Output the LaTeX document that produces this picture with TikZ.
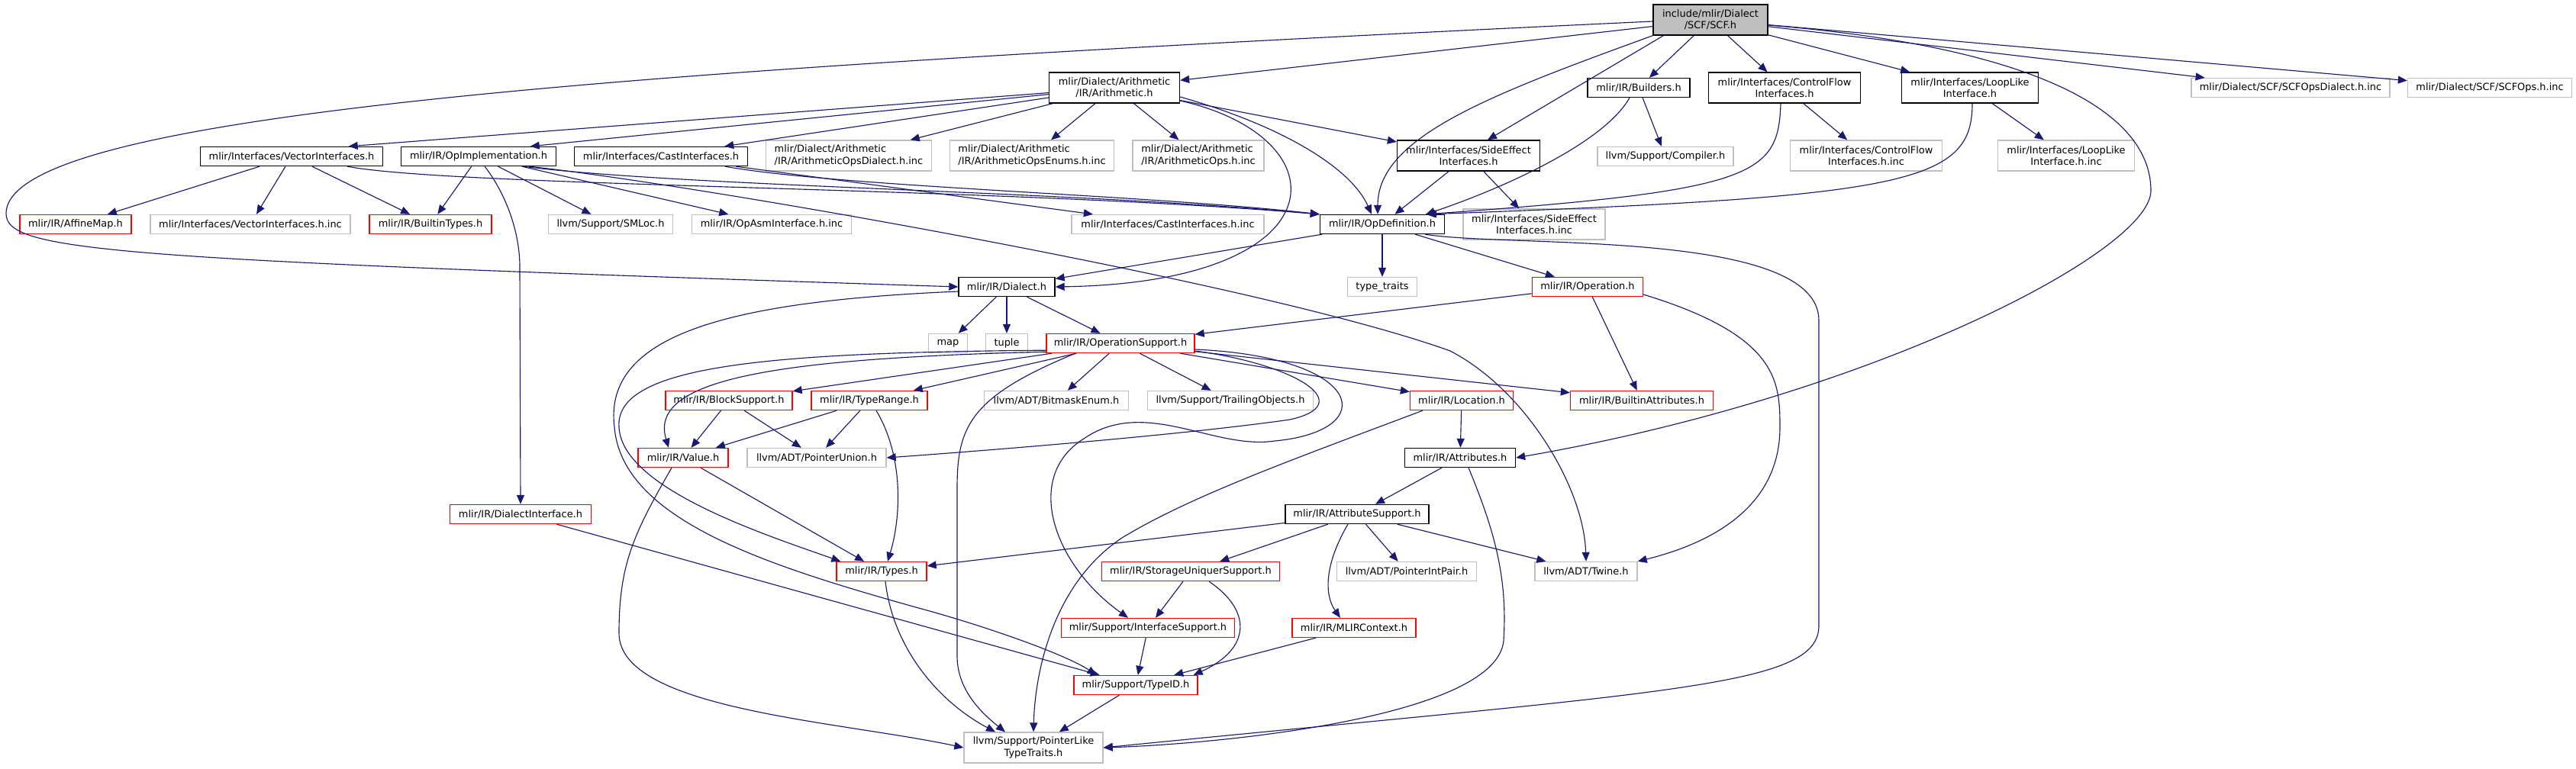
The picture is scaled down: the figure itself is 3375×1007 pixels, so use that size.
\documentclass[tikz,border=0pt]{standalone}
\usepackage{fontspec}
\setmainfont{DejaVu Sans}
\usepackage{xcolor}
\usetikzlibrary{arrows.meta,calc}
\definecolor{edgeblue}{RGB}{25,25,112}
\definecolor{lightgrey}{RGB}{191,191,191}
\tikzstyle{file} = [rectangle, line width=1pt, minimum height=25*0.75pt, inner xsep=4pt, inner ysep=2pt, text centered, align=center, fill=white, font=\fontsize{9.7}{11.5}\selectfont]
\tikzstyle{root} = [file, draw=black, fill=lightgrey]
\tikzstyle{doc} = [file, draw=black]
\tikzstyle{trunc} = [file, draw=red]
\tikzstyle{ext} = [file, draw=lightgrey]
\tikzstyle{tall} = [minimum height=40*0.75pt]
\tikzstyle{arrow} = [line width=0.85pt, draw=edgeblue, -{Triangle[length=9pt,width=7.5pt]}]
\tikzset{boxw/.style={minimum width=#1*0.75pt}}

\begin{document}
\begin{tikzpicture}[x=0.75pt, y=-0.75pt]
\path[fill=white, use as bounding box] (0,0) rectangle (3375,1007);

\node (scf) [root, boxw=150, tall] at (2241,26) {include/mlir/Dialect\\/SCF/SCF.h};
\node (arith) [doc, boxw=171, tall] at (1460,115) {mlir/Dialect/Arithmetic\\/IR/Arithmetic.h};
\node (builders) [doc, boxw=134] at (2147,115) {mlir/IR/Builders.h};
\node (cfi) [doc, boxw=199, tall] at (2338,115) {mlir/Interfaces/ControlFlow\\Interfaces.h};
\node (looplike) [doc, boxw=179, tall] at (2581,115) {mlir/Interfaces/LoopLike\\Interface.h};
\node (scfdial) [ext, boxw=260] at (3001,115) {mlir/Dialect/SCF/SCFOpsDialect.h.inc};
\node (scfops) [ext, boxw=215] at (3262,115) {mlir/Dialect/SCF/SCFOps.h.inc};

\node (vec) [doc, boxw=239] at (382,205) {mlir/Interfaces/VectorInterfaces.h};
\node (opimpl) [doc, boxw=203] at (627,205) {mlir/IR/OpImplementation.h};
\node (cast) [doc, boxw=227] at (866,205) {mlir/Interfaces/CastInterfaces.h};
\node (arithdial) [ext, boxw=217, tall, align=left] at (1112,204) {mlir/Dialect/Arithmetic\\/IR/ArithmeticOpsDialect.h.inc};
\node (arithenums) [ext, boxw=215, tall, align=left] at (1352,204) {mlir/Dialect/Arithmetic\\/IR/ArithmeticOpsEnums.h.inc};
\node (arithops) [ext, boxw=172, tall, align=left] at (1570,204) {mlir/Dialect/Arithmetic\\/IR/ArithmeticOps.h.inc};
\node (sideeff) [doc, boxw=187, tall] at (1924,204) {mlir/Interfaces/SideEffect\\Interfaces.h};
\node (compiler) [ext, boxw=178] at (2182,205) {llvm/Support/Compiler.h};
\node (cfiinc) [ext, boxw=199, tall] at (2445,204) {mlir/Interfaces/ControlFlow\\Interfaces.h.inc};
\node (loopinc) [ext, boxw=179, tall] at (2707,204) {mlir/Interfaces/LoopLike\\Interface.h.inc};

\node (affine) [trunc, boxw=146] at (99,294) {mlir/IR/AffineMap.h};
\node (vecinc) [ext, boxw=262] at (328,294) {mlir/Interfaces/VectorInterfaces.h.inc};
\node (btypes) [trunc, boxw=160] at (564,294) {mlir/IR/BuiltinTypes.h};
\node (smloc) [ext, boxw=163] at (800,294) {llvm/Support/SMLoc.h};
\node (opasm) [ext, boxw=209] at (1011,294) {mlir/IR/OpAsmInterface.h.inc};
\node (castinc) [ext, boxw=252] at (1530,294) {mlir/Interfaces/CastInterfaces.h.inc};
\node (opdef) [doc, boxw=163] at (1811,294) {mlir/IR/OpDefinition.h};
\node (sideinc) [ext, boxw=186, tall] at (2010,294) {mlir/Interfaces/SideEffect\\Interfaces.h.inc};

\node (dialect) [doc, boxw=126] at (1319,376) {mlir/IR/Dialect.h};
\node (typetraits) [ext, boxw=91] at (1811,376) {type\_traits};
\node (operation) [trunc, boxw=145] at (2080,376) {mlir/IR/Operation.h};

\node (map) [ext, boxw=51] at (1242,450) {map};
\node (tuple) [ext, boxw=55] at (1319,450) {tuple};
\node (opsupport) [trunc, boxw=194] at (1468,450) {mlir/IR/OperationSupport.h};

\node (blocksup) [trunc, boxw=166] at (955,525) {mlir/IR/BlockSupport.h};
\node (typerange) [trunc, boxw=152] at (1139,525) {mlir/IR/TypeRange.h};
\node (bitmask) [ext, boxw=189] at (1384,525) {llvm/ADT/BitmaskEnum.h};
\node (trailing) [ext, boxw=217] at (1612,525) {llvm/Support/TrailingObjects.h};
\node (location) [trunc, boxw=135] at (1915,525) {mlir/IR/Location.h};
\node (battr) [trunc, boxw=187] at (2151,525) {mlir/IR/BuiltinAttributes.h};

\node (value) [trunc, boxw=118] at (895,600) {mlir/IR/Value.h};
\node (ptrunion) [ext, boxw=182] at (1070,600) {llvm/ADT/PointerUnion.h};
\node (attributes) [doc, boxw=145] at (1913,600) {mlir/IR/Attributes.h};

\node (dialectif) [trunc, boxw=185] at (682,674) {mlir/IR/DialectInterface.h};
\node (attrsupport) [doc, boxw=188] at (1778,674) {mlir/IR/AttributeSupport.h};

\node (types) [trunc, boxw=118] at (1155,749) {mlir/IR/Types.h};
\node (storage) [trunc, boxw=233] at (1560,749) {mlir/IR/StorageUniquerSupport.h};
\node (ptrintpair) [ext, boxw=183] at (1843,749) {llvm/ADT/PointerIntPair.h};
\node (twine) [ext, boxw=134] at (2078,749) {llvm/ADT/Twine.h};

\node (ifsupport) [trunc, boxw=227] at (1504,823) {mlir/Support/InterfaceSupport.h};
\node (mlirctx) [trunc, boxw=162] at (1774,823) {mlir/IR/MLIRContext.h};
\node (typeid) [trunc, boxw=162] at (1488,898) {mlir/Support/TypeID.h};
\node (ptrlike) [ext, boxw=182, tall] at (1354,980) {llvm/Support/PointerLike\\TypeTraits.h};

\draw [arrow] (scf) -- (arith);
\draw [arrow] ($(scf.west)+(0,2)$) .. controls (800,92) and (8,150) .. (8,280) .. controls (8,330) and (150,340) .. (dialect.west);
\draw [arrow] (scf.south west) .. controls (1950,125) and (1805,180) .. ($(opdef.north)+(-6,0)$);
\draw [arrow] (scf) -- (builders);
\draw [arrow] ($(scf.south west)+(14,0)$) -- ($(sideeff.north)+(25,0)$);
\draw [arrow] (scf) -- (cfi);
\draw [arrow] (scf) -- (looplike);
\draw [arrow] (scf) -- (scfdial);
\draw [arrow] (scf) -- (scfops);
\draw [arrow] ($(scf.east)+(0,7)$) .. controls (2650,60) and (2818,140) .. (2818,250) .. controls (2818,330) and (2450,520) .. (attributes.east);

\draw [arrow] (arith) -- (vec.10);
\draw [arrow] (arith) -- (opimpl.11);
\draw [arrow] (arith) -- (cast.9);
\draw [arrow] (arith) -- (arithdial);
\draw [arrow] (arith) -- (arithenums);
\draw [arrow] (arith) -- (arithops);
\draw [arrow] ($(arith.east)+(0,17)$) .. controls (1760,180) and (1760,370) .. (dialect.east);
\draw [arrow] ($(arith.east)+(0,12)$) .. controls (1680,165) and (1770,220) .. ($(opdef.north)+(-14,0)$);
\draw [arrow] (arith) -- (sideeff);

\draw [arrow] (vec) -- (affine);
\draw [arrow] (vec) -- (vecinc);
\draw [arrow] (vec) -- (btypes);
\draw [arrow] ($(vec.south)+(73,0)$) .. controls (600,245) and (1300,245) .. (opdef.north west);

\draw [arrow] (opimpl) -- (btypes);
\draw [arrow] ($(opimpl.south)+(8,0)$) .. controls (660,250) and (681,300) .. (681,350) -- (dialectif.north);
\draw [arrow] (opimpl) -- (smloc);
\draw [arrow] (opimpl) -- (opasm);
\draw [arrow] ($(opimpl.south)+(58,0)$) .. controls (900,245) and (1400,250) .. (opdef.north west);
\draw [arrow] ($(opimpl.south)+(66,0)$) .. controls (900,240) and (1650,370) .. (1900,460) .. controls (2000,512) and (2075,640) .. (twine.north);

\draw [arrow] (cast) -- (castinc);
\draw [arrow] ($(cast.south)+(84,0)$) .. controls (1100,245) and (1500,255) .. (opdef.north west);

\draw [arrow] (sideeff) -- (opdef);
\draw [arrow] (sideeff) -- (sideinc);

\draw [arrow] (builders) -- (compiler);
\draw [arrow] ($(builders.south)+(-12,0)$) .. controls (2100,190) and (1960,250) .. ($(opdef.north)+(57,0)$);
\draw [arrow] (cfi) -- (cfiinc);
\draw [arrow] ($(cfi.south)+(-5,0)$) .. controls (2330,230) and (2300,250) .. ($(opdef.north)+(57,0)$);
\draw [arrow] (looplike) -- (loopinc);
\draw [arrow] ($(looplike.south)+(3,0)$) .. controls (2584,240) and (2500,258) .. ($(opdef.north)+(59,0)$);

\draw [arrow] (opdef) -- (dialect);
\draw [arrow] (opdef) -- (typetraits);
\draw [arrow] (opdef) -- (operation);
\draw [arrow] ($(opdef.south)+(56,0)$) .. controls (1980,325) and (2383,300) .. (2383,420) -- (2383,820) .. controls (2383,900) and (2200,905) .. (ptrlike.east);

\draw [arrow] (dialect) -- (map);
\draw [arrow] (dialect) -- (tuple);
\draw [arrow] (dialect) -- (opsupport);
\draw [arrow] ($(dialect.west)+(0,6)$) .. controls (950,395) and (790,440) .. (805,560) .. controls (815,680) and (1000,740) .. (1200,796) .. controls (1300,823) and (1400,860) .. ($(typeid.north west)+(30,0)$);

\draw [arrow] (opsupport) -- (blocksup);
\draw [arrow] (opsupport) -- (typerange);
\draw [arrow] (opsupport) -- (bitmask);
\draw [arrow] (opsupport) -- (trailing);
\draw [arrow] (opsupport) -- (location);
\draw [arrow] (opsupport) -- (battr);
\draw [arrow] ($(opsupport.east)+(0,10)$) .. controls (1700,478) and (1780,530) .. (1690,550) .. controls (1550,570) and (1300,590) .. (ptrunion.east);
\draw [arrow] ($(opsupport.east)+(0,8)$) .. controls (1790,468) and (1810,565) .. (1670,578) .. controls (1590,590) and (1500,520) .. (1420,575) .. controls (1340,625) and (1380,740) .. ($(ifsupport.north)+(-26,0)$);
\draw [arrow] ($(opsupport.south west)+(0,-2)$) .. controls (1000,470) and (850,500) .. ($(value.north)+(-19,0)$);
\draw [arrow] ($(opsupport.south west)+(0,-4)$) .. controls (1000,462) and (805,480) .. (811,560) .. controls (815,640) and (1000,700) .. ($(types.north west)+(6,0)$);
\draw [arrow] ($(opsupport.south)+(-59,0)$) .. controls (1270,520) and (1254,560) .. (1254,640) -- (1254,860) .. controls (1254,900) and (1280,930) .. ($(ptrlike.north)+(-37,0)$);

\draw [arrow] (blocksup) -- (value);
\draw [arrow] (blocksup) -- (ptrunion);
\draw [arrow] (typerange) -- (value);
\draw [arrow] (typerange) -- (ptrunion);
\draw [arrow] ($(typerange.south)+(9,0)$) .. controls (1185,600) and (1180,680) .. ($(types.north)+(8,0)$);
\draw [arrow] (value) -- (types);
\draw [arrow] ($(value.south)+(-15,0)$) .. controls (830,700) and (811,740) .. (811,830) .. controls (811,930) and (1100,945) .. (ptrlike.west);
\draw [arrow] ($(types.south)+(5,0)$) .. controls (1170,850) and (1230,920) .. ($(ptrlike.north)+(-50,0)$);

\draw [arrow] (operation) -- (opsupport);
\draw [arrow] (operation) -- (battr);
\draw [arrow] ($(operation.east)+(0,10)$) .. controls (2330,440) and (2332,500) .. (2332,560) .. controls (2332,660) and (2250,710) .. (twine.north east);

\draw [arrow] (location) -- (attributes);
\draw [arrow] ($(location.south west)+(17,0)$) .. controls (1700,600) and (1560,650) .. (1470,705) .. controls (1380,765) and (1356,880) .. (ptrlike.north);
\draw [arrow] (attributes) -- (attrsupport);
\draw [arrow] ($(attributes.south)+(11,0)$) .. controls (1960,700) and (1975,760) .. (1970,840) .. controls (1960,940) and (1600,975) .. (ptrlike.east);

\draw [arrow] (attrsupport) -- (types);
\draw [arrow] (attrsupport) -- (storage);
\draw [arrow] ($(attrsupport.south)+(-12,0)$) .. controls (1735,740) and (1735,780) .. ($(mlirctx.north)+(-18,0)$);
\draw [arrow] (attrsupport) -- (ptrintpair);
\draw [arrow] (attrsupport) -- (twine);

\draw [arrow] (storage) -- (ifsupport);
\draw [arrow] ($(storage.south)+(24,0)$) .. controls (1640,800) and (1640,850) .. ($(typeid.north east)+(-6,0)$);
\draw [arrow] (ifsupport) -- (typeid);
\draw [arrow] (mlirctx) -- (typeid);
\draw [arrow] (dialectif) -- (typeid);
\draw [arrow] (typeid) -- (ptrlike);

\end{tikzpicture}
\end{document}
